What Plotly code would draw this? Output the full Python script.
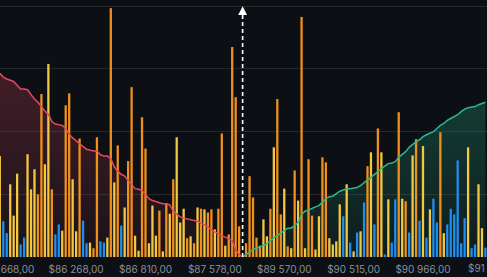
import plotly.graph_objects as go

# ---- data -------------------------------------------------------------
# liquidation bars below the current price (index 0..69) and above it (index 71..140)
left_vals = [1.61, 0.57, 0.38, 1.16, 0.66, 1.33, 0.20, 0.31, 1.64, 1.08,
             1.40, 1.00, 2.60, 1.48, 3.08, 1.08, 0.36, 0.52, 0.42, 2.42,
             2.61, 1.24, 0.41, 1.89, 0.58, 0.22, 0.23, 0.14, 1.91, 0.25,
             0.23, 0.31, 3.97, 1.19, 1.78, 0.50, 0.79, 1.53, 2.71, 0.34,
             0.10, 2.23, 1.73, 0.22, 0.82, 0.34, 0.74, 0.09, 0.85, 0.69,
             1.24, 1.91, 0.55, 0.77, 0.30, 0.33, 0.22, 0.79, 0.77, 0.76,
             0.71, 0.76, 0.44, 0.77, 1.97, 0.18, 0.36, 3.35, 2.55, 0.49]
left_kind = list("YBBYYYBBYY"
                 "YOOYYOBBYO"
                 "OYYOBBYOOB"
                 "BYOYOBYOOY"
                 "YOOYYYOYOY"
                 "OYYYOYOYOY"
                 "OOYOOYOOOO")

right_vals = [0.22, 1.29, 0.95, 0.31, 0.18, 0.60, 0.33, 0.77, 1.75, 2.52,
              0.68, 1.09, 0.17, 0.14, 1.38, 0.90, 3.83, 0.14, 1.56, 0.66,
              0.12, 0.65, 1.59, 1.51, 0.30, 0.20, 0.25, 0.84, 0.65, 1.16,
              0.23, 0.09, 0.39, 0.41, 0.87, 1.45, 1.67, 0.52, 2.05, 1.67,
              0.04, 0.92, 0.23, 0.92, 2.31, 0.93, 0.89, 0.39, 1.62, 1.88,
              0.58, 1.77, 0.31, 0.76, 0.93, 0.55, 1.99, 0.38, 0.52, 0.77,
              0.68, 1.54, 0.22, 0.62, 1.75, 0.14, 0.20, 1.16, 0.46, 0.15]
right_kind = list("OOOOOYYOYO"
                  "OYOYOYOYOO"
                  "YYOOYYYYBY"
                  "BYBYBOYBOY"
                  "BYBBOYOBYO"
                  "BYBYBBOYBB"
                  "BBBBYBBYYB")

# cumulative liquidation (short side left, long side right)
cum_left = [2.93, 2.87, 2.84, 2.82, 2.80, 2.74, 2.68, 2.68, 2.67, 2.59,
            2.52, 2.47, 2.40, 2.33, 2.28, 2.16, 2.12, 2.11, 2.10, 2.05,
            1.96, 1.90, 1.85, 1.80, 1.76, 1.72, 1.70, 1.69, 1.69, 1.63,
            1.61, 1.61, 1.57, 1.44, 1.37, 1.32, 1.29, 1.22, 1.15, 1.09,
            1.08, 1.06, 1.00, 0.93, 0.90, 0.88, 0.87, 0.85, 0.85, 0.83,
            0.73, 0.68, 0.64, 0.62, 0.61, 0.60, 0.58, 0.57, 0.54, 0.51,
            0.48, 0.43, 0.40, 0.38, 0.34, 0.31, 0.29, 0.26, 0.11, 0.04, 0.0]
cum_right = [0.0, 0.04, 0.07, 0.12, 0.14, 0.16, 0.18, 0.21, 0.26, 0.31,
             0.34, 0.38, 0.42, 0.46, 0.46, 0.50, 0.55, 0.68, 0.73, 0.75,
             0.78, 0.80, 0.82, 0.87, 0.93, 0.96, 0.97, 1.01, 1.05, 1.07,
             1.09, 1.09, 1.10, 1.11, 1.14, 1.19, 1.23, 1.27, 1.32, 1.36,
             1.41, 1.45, 1.49, 1.50, 1.52, 1.59, 1.64, 1.68, 1.75, 1.80,
             1.84, 1.87, 1.92, 1.95, 1.97, 2.00, 2.05, 2.10, 2.13, 2.18,
             2.21, 2.24, 2.27, 2.32, 2.36, 2.38, 2.39, 2.40, 2.43, 2.45, 2.47]

tick_idx = [2, 22, 42, 62, 82, 102, 122, 142]
tick_labels = ["$85 668,00", "$86 268,00", "$86 810,00", "$87 578,00",
               "$89 570,00", "$90 515,00", "$90 966,00", "$91 417,00"]

# ---- styling ----------------------------------------------------------
BG = "#0c1015"
GRID = "#25282d"
COLORS = {"Y": "#f4c83e", "O": "#f0901c", "B": "#1e8ff0"}
RED = "#e8475f"
GREEN = "#2bb789"
LABEL = "#8a8f98"

current_idx = len(left_vals)
left_x = list(range(current_idx))
right_x = list(range(current_idx + 1, current_idx + 1 + len(right_vals)))
cum_left_x = list(range(current_idx + 1))
cum_right_x = list(range(current_idx, current_idx + len(cum_right)))

X_RANGE = [0.058, 140.45]
Y_RANGE = [0, 4.1]

fig = go.Figure()

# fills (base subplot, behind bars)
fig.add_trace(go.Scatter(
    x=cum_left_x, y=cum_left, mode="none", fill="tozeroy",
    fillgradient=dict(type="vertical",
                      colorscale=[[0, "rgba(232,71,95,0.06)"], [1, "rgba(232,71,95,0.24)"]]),
    hoverinfo="skip", showlegend=False, xaxis="x", yaxis="y"))
fig.add_trace(go.Scatter(
    x=cum_right_x, y=cum_right, mode="none", fill="tozeroy",
    fillgradient=dict(type="vertical",
                      colorscale=[[0, "rgba(43,183,137,0.07)"], [1, "rgba(43,183,137,0.26)"]]),
    hoverinfo="skip", showlegend=False, xaxis="x", yaxis="y"))

# bars (overlay subplot)
fig.add_trace(go.Bar(
    x=left_x + right_x, y=left_vals + right_vals,
    marker=dict(color=[COLORS[k] for k in left_kind + right_kind], line=dict(width=0)),
    showlegend=False, xaxis="x", yaxis="y2"))

# cumulative lines on top
fig.add_trace(go.Scatter(x=cum_left_x, y=cum_left, mode="lines",
                         line=dict(color=RED, width=1.5), showlegend=False,
                         xaxis="x", yaxis="y3"))
fig.add_trace(go.Scatter(x=cum_right_x, y=cum_right, mode="lines",
                         line=dict(color=GREEN, width=1.5), showlegend=False,
                         xaxis="x", yaxis="y3"))

# current price dashed marker
fig.add_trace(go.Scatter(x=[current_idx, current_idx], y=[0, 3.93], mode="lines",
                         line=dict(color="#ffffff", width=1.6, dash="4px,3px"),
                         showlegend=False, xaxis="x", yaxis="y3"))
fig.add_annotation(x=current_idx, y=4.0, xref="x", yref="y3", ax=0, ay=9,
                   showarrow=True, arrowhead=2, arrowsize=1.1, arrowwidth=1.6,
                   arrowcolor="#ffffff", text="")

visible = [(i, t) for i, t in zip(tick_idx, tick_labels) if X_RANGE[0] <= i <= X_RANGE[1]]
hidden = [(i, t) for i, t in zip(tick_idx, tick_labels) if not X_RANGE[0] <= i <= X_RANGE[1]]
for i, t in hidden:
    fig.add_annotation(x=(i - X_RANGE[0]) / (X_RANGE[1] - X_RANGE[0]), y=0,
                       xref="paper", yref="paper", xanchor="center", yanchor="top",
                       yshift=-3, showarrow=False, text=t,
                       font=dict(family="Inter", size=10, color=LABEL))

fig.update_layout(
    width=487, height=277,
    margin=dict(l=0, r=0, t=0, b=20),
    paper_bgcolor=BG, plot_bgcolor=BG,
    bargap=0.34, showlegend=False,
    font=dict(family="Inter", size=10, color=LABEL),
    xaxis=dict(range=X_RANGE, tickmode="array",
               tickvals=[i for i, _ in visible], ticktext=[t for _, t in visible],
               showgrid=False, zeroline=False, showline=False,
               ticks="outside", ticklen=3, tickcolor="rgba(0,0,0,0)",
               ticklabeloverflow="allow", automargin=False,
               tickfont=dict(family="Inter", size=10, color=LABEL)),
    yaxis=dict(range=Y_RANGE, dtick=1, showgrid=True, gridcolor=GRID, gridwidth=1,
               zeroline=False, showticklabels=False, showline=False),
    yaxis2=dict(range=Y_RANGE, overlaying="y", showgrid=False, zeroline=False,
                showticklabels=False, showline=False),
    yaxis3=dict(range=Y_RANGE, overlaying="y", showgrid=False, zeroline=False,
                showticklabels=False, showline=False),
)

fig.write_html("out.html")
